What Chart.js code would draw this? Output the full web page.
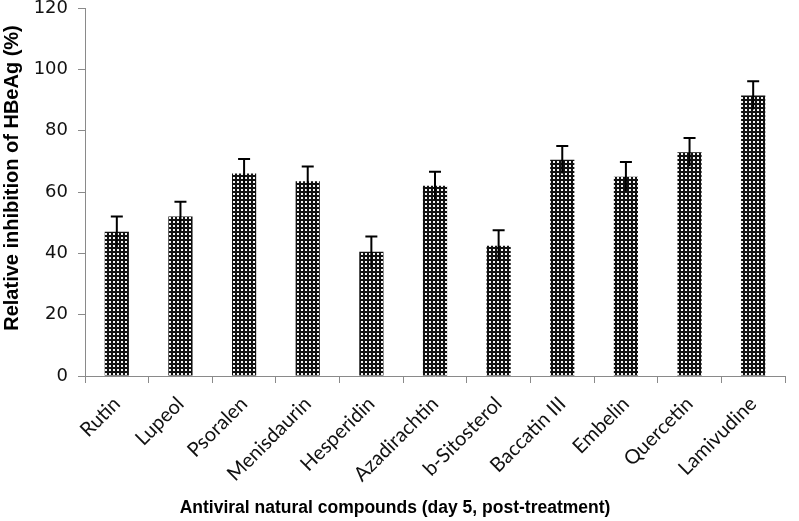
<!DOCTYPE html>
<html>
<head>
<meta charset="utf-8">
<script src="https://cdn.jsdelivr.net/npm/chart.js@4.4.1/dist/chart.umd.min.js"></script>
<style>
  html, body { margin: 0; padding: 0; background: #fff; }
  #wrap { width: 799px; height: 521px; position: relative; }
</style>
</head>
<body>
<div id="wrap"><canvas id="inhibitionChart"></canvas></div>
<script>
const compounds = ['Rutin', 'Lupeol', 'Psoralen', 'Menisdaurin', 'Hesperidin', 'Azadirachtin',
    'b-Sitosterol', 'Baccatin III', 'Embelin', 'Quercetin', 'Lamivudine']
const inhibition = [47, 52, 66, 63.5, 40.5, 62, 42.5, 70.5, 65, 73, 91.5]
const errorSize = [5, 4.8, 4.8, 4.8, 5, 4.6, 5, 4.5, 4.8, 4.6, 4.6]
const yTicks = [0, 20, 40, 60, 80, 100, 120]
const xTitle = 'Antiviral natural compounds (day 5, post-treatment)'
const yTitle = 'Relative inhibition of HBeAg (%)'

// dotted fill like the print pattern
const makePattern = () => {
    let tile = document.createElement('canvas')
    tile.width = 4
    tile.height = 4
    let c = tile.getContext('2d')
    c.fillStyle = '#111'
    c.fillRect(0, 0, 4, 4)
    c.fillStyle = '#f4f4f4'
    c.fillRect(1, 1, 2, 2)
    return c.createPattern(tile, 'repeat')
}

const errorBars = {
    id: 'errorBars',
    afterDatasetsDraw (chart) {
        let ctx = chart.ctx
        let meta = chart.getDatasetMeta(0)
        let yScale = chart.scales.y
        ctx.save()
        ctx.strokeStyle = '#000'
        ctx.lineWidth = 2
        meta.data.forEach((bar, i) => {
            let top = yScale.getPixelForValue(inhibition[i] + errorSize[i])
            let bottom = yScale.getPixelForValue(inhibition[i] - errorSize[i])
            ctx.beginPath()
            ctx.moveTo(bar.x, top)
            ctx.lineTo(bar.x, bottom)
            ctx.moveTo(bar.x - 6, top)
            ctx.lineTo(bar.x + 6, top)
            ctx.stroke()
        })
        ctx.restore()
    }
}

// axis titles sit a little off the axis centres in the original
const axisTitles = {
    id: 'axisTitles',
    afterDraw (chart) {
        let ctx = chart.ctx
        ctx.save()
        ctx.fillStyle = '#000'
        ctx.textAlign = 'center'
        ctx.textBaseline = 'middle'
        ctx.font = 'bold 17.5px "Liberation Sans"'
        ctx.fillText(xTitle, 395, 508)
        ctx.translate(12, 178)
        ctx.rotate(-Math.PI / 2)
        ctx.font = 'bold 20px "Liberation Sans"'
        ctx.fillText(yTitle, 0, 0)
        ctx.restore()
    }
}

const ctx = document.getElementById('inhibitionChart')
new Chart(ctx, {
    type: 'bar',
    data: {
        labels: compounds,
        datasets: [{
            data: inhibition,
            backgroundColor: makePattern(),
            borderWidth: 0,
            categoryPercentage: 1,
            barPercentage: 0.38,
        }],
    },
    options: {
        responsive: true,
        maintainAspectRatio: false,
        animation: false,
        layout: {
            padding: { top: 8, right: 14, left: 0, bottom: 0 },
        },
        plugins: {
            legend: { display: false },
            tooltip: { enabled: false },
        },
        scales: {
            y: {
                min: 0,
                max: 120,
                afterBuildTicks: (axis) => { axis.ticks = yTicks.map(v => ({ value: v })) },
                afterFit: (axis) => {
                    axis.width = 85
                    axis.paddingTop = 0
                    axis.paddingBottom = 0
                },
                border: { color: '#8a8a8a', width: 1 },
                grid: { drawOnChartArea: false, tickLength: 7, color: '#8a8a8a' },
                ticks: {
                    color: '#111',
                    padding: 10,
                    font: { family: 'DejaVu Sans', size: 18 },
                },
            },
            x: {
                afterFit: (axis) => { axis.height = 145 },
                border: { color: '#8a8a8a', width: 1 },
                grid: { drawOnChartArea: false, offset: true, tickLength: 7, color: '#8a8a8a' },
                ticks: {
                    color: '#111',
                    minRotation: 45,
                    maxRotation: 45,
                    padding: 9,
                    font: { family: 'Lato', size: 20 },
                },
            },
        },
    },
    plugins: [errorBars, axisTitles],
})
</script>
</body>
</html>
